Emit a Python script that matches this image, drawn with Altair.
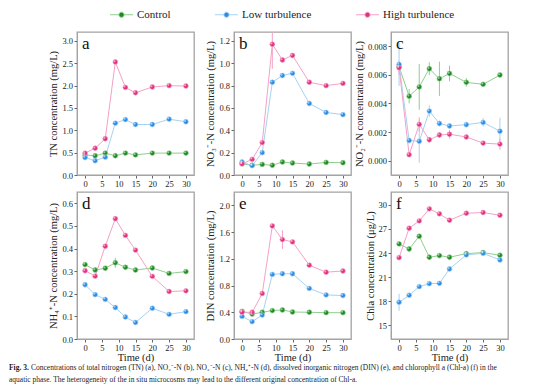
import altair as alt
import pandas as pd

FONT = "Liberation Serif"

days = [0, 3, 6, 9, 12, 15, 20, 25, 30]
series_names = ["Control", "Low turbulence", "High turbulence"]
point_colors = ["#1f8a24", "#2b8ce6", "#e3307f"]
line_colors = ["#8fcf8f", "#a6d2f5", "#f4a2c6"]

# (a) TN
tn_control = [0.45, 0.43, 0.49, 0.43, 0.49, 0.45, 0.49, 0.49, 0.49]
tn_low = [0.39, 0.32, 0.40, 1.16, 1.24, 1.13, 1.13, 1.25, 1.19]
tn_high = [0.49, 0.60, 0.81, 2.53, 1.96, 1.84, 1.97, 2.00, 1.99]
tn_control_err = [0, 0, 0, 0, 0, 0, 0, 0, 0]
tn_low_err = [0, 0, 0, 0, 0, 0, 0, 0, 0]
tn_high_err = [0, 0, 0, 0, 0, 0, 0, 0, 0]

# (b) NO3-N
no3_control = [0.100, 0.087, 0.095, 0.087, 0.116, 0.107, 0.098, 0.113, 0.110]
no3_low = [0.116, 0.084, 0.20, 0.83, 0.89, 0.91, 0.64, 0.56, 0.54]
no3_high = [0.10, 0.14, 0.29, 1.17, 1.03, 1.07, 0.83, 0.80, 0.82]
no3_control_err = [0, 0, 0, 0, 0, 0, 0, 0, 0]
no3_low_err = [0, 0, 0, 0, 0, 0, 0, 0, 0]
no3_high_err = [0, 0, 0, 0.22, 0, 0, 0, 0, 0]

# (c) NO2-N
no2_control = [0.00657, 0.00451, 0.00516, 0.00643, 0.00573, 0.00610, 0.00548, 0.00534, 0.00599]
no2_low = [0.00673, 0.00141, 0.00136, 0.00347, 0.00260, 0.00243, 0.00252, 0.00268, 0.00206]
no2_high = [0.00650, 0.00042, 0.00254, 0.00146, 0.00180, 0.00185, 0.00166, 0.00123, 0.00116]
no2_control_err = [0.0002, 0.0005, 0.0016, 0.00045, 0.0012, 0.00055, 0.0003, 0.0001, 0.0001]
no2_low_err = [0.0015, 0.0001, 0.0015, 0.0004, 0.0002, 0.0002, 0.0002, 0.0003, 0.00095]
no2_high_err = [0.0005, 0.0001, 0.0005, 0.0002, 0.0002, 0.0003, 0.0001, 0.0001, 0.0004]

# (d) NH4-N
nh4_control = [0.329, 0.305, 0.313, 0.337, 0.317, 0.305, 0.314, 0.290, 0.298]
nh4_low = [0.240, 0.196, 0.175, 0.139, 0.097, 0.073, 0.136, 0.109, 0.121]
nh4_high = [0.302, 0.278, 0.410, 0.532, 0.458, 0.393, 0.277, 0.210, 0.213]
nh4_control_err = [0.01, 0.01, 0, 0.022, 0, 0, 0, 0, 0]
nh4_low_err = [0.012, 0, 0, 0, 0, 0, 0, 0, 0]
nh4_high_err = [0, 0, 0, 0, 0, 0, 0, 0, 0]

# (e) DIN
din_control = [0.414, 0.373, 0.400, 0.425, 0.435, 0.404, 0.400, 0.394, 0.394]
din_low = [0.338, 0.260, 0.358, 0.967, 0.977, 0.977, 0.757, 0.660, 0.650]
din_high = [0.400, 0.400, 0.680, 1.693, 1.488, 1.453, 1.105, 1.000, 1.018]
din_control_err = [0, 0, 0, 0, 0, 0, 0, 0, 0]
din_low_err = [0, 0, 0, 0, 0, 0, 0, 0, 0]
din_high_err = [0, 0, 0, 0, 0.14, 0, 0, 0, 0]

# (f) Chla
chla_control = [25.14, 24.51, 26.09, 23.48, 23.68, 23.48, 23.93, 24.06, 23.72]
chla_low = [17.87, 18.74, 19.82, 20.19, 20.23, 22.02, 23.77, 23.97, 23.14]
chla_high = [23.43, 27.09, 28.00, 29.50, 28.88, 28.09, 28.96, 29.04, 28.71]
chla_control_err = [0, 0.35, 0, 0.35, 0, 0, 0.3, 0, 0]
chla_low_err = [1.05, 0, 0, 0, 0, 0, 0, 0, 0]
chla_high_err = [0, 0, 0, 0, 0, 0, 0, 0, 0]

panel_keys = ["a", "b", "c", "d", "e", "f"]
panel_series = {
    "a": (tn_control, tn_low, tn_high, tn_control_err, tn_low_err, tn_high_err),
    "b": (no3_control, no3_low, no3_high, no3_control_err, no3_low_err, no3_high_err),
    "c": (no2_control, no2_low, no2_high, no2_control_err, no2_low_err, no2_high_err),
    "d": (nh4_control, nh4_low, nh4_high, nh4_control_err, nh4_low_err, nh4_high_err),
    "e": (din_control, din_low, din_high, din_control_err, din_low_err, din_high_err),
    "f": (chla_control, chla_low, chla_high, chla_control_err, chla_low_err, chla_high_err),
}
y_titles = {
    "a": "TN concentration (mg/L)",
    "b": "NO\u2083\u207b-N concentration (mg/L)",
    "c": "NO\u2082\u207b-N concentration (mg/L)",
    "d": "NH\u2084\u207a-N concentration (mg/L)",
    "e": "DIN concentration (mg/L)",
    "f": "Chla concentration (\u03bcg/L)",
}
y_domains = {
    "a": [0, 3.2], "b": [0, 1.28], "c": [-0.001, 0.009],
    "d": [0, 0.65], "e": [0, 2.2], "f": [13.3, 31.6],
}
y_ticks = {
    "a": [0, 0.5, 1.0, 1.5, 2.0, 2.5, 3.0],
    "b": [0, 0.2, 0.4, 0.6, 0.8, 1.0, 1.2],
    "c": [0, 0.002, 0.004, 0.006, 0.008],
    "d": [0, 0.1, 0.2, 0.3, 0.4, 0.5, 0.6],
    "e": [0, 0.4, 0.8, 1.2, 1.6, 2.0],
    "f": [15, 18, 21, 24, 27, 30],
}
y_formats = {"a": ".1f", "b": ".1f", "c": ".3f", "d": ".1f", "e": ".1f", "f": "d"}
x_domain = [-2.4, 32.4]
x_ticks = [0, 5, 10, 15, 20, 25, 30]

caption_bold = "Fig. 3."
caption_line1 = ("Concentrations of total nitrogen (TN) (a), NO\u2083\u207b-N (b), NO\u2082\u207b-N (c), "
                 "NH\u2084\u207a-N (d), dissolved inorganic nitrogen (DIN) (e), and chlorophyll a (Chl-a) (f) in the")
caption_line2 = ("aquatic phase. The heterogeneity of the in situ microcosms may lead to the different "
                 "original concentration of Chl-a.")

rows = []
for key in panel_keys:
    vals = panel_series[key]
    for si, name in enumerate(series_names):
        for d, v, e in zip(days, vals[si], vals[si + 3]):
            rows.append({"panel": key, "day": d, "series": name, "value": v,
                         "lo": v - e, "hi": v + e, "err": e})
df = pd.DataFrame(rows)

# legend glyph: short line, dot, short line (drawn wider than the nominal symbol box)
path = ("M-2,0L-0.45,0M0.45,0L2,0"
        "M-0.45,0A0.45,0.45 0 1,0 0.45,0A0.45,0.45 0 1,0 -0.45,0Z")

legend = alt.Legend(orient="none", legendX=38, legendY=-24, direction="horizontal",
                    title=None, symbolType=path, symbolSize=132, symbolStrokeWidth=1,
                    labelFont=FONT, labelFontSize=11, labelColor="#222222",
                    columnPadding=42, labelOffset=9, padding=0)

stroke_scale = alt.Scale(domain=series_names, range=line_colors)
fill_scale = alt.Scale(domain=series_names, range=point_colors)

PW = 117
H1 = 143
H2 = 147


def panel(key, height, bottom_row):
    sub = df[df.panel == key]
    xaxis = alt.Axis(values=x_ticks, title="Time (d)" if bottom_row else None,
                     labelFlush=False, labelOverlap=False, titlePadding=0,
                     titleFontWeight="normal", titleFont=FONT, titleFontSize=10.5)
    yaxis = alt.Axis(values=y_ticks[key], format=y_formats[key], title=y_titles[key],
                     labelFlush=False, labelOverlap=False,
                     titleFontWeight="normal", titleFont=FONT, titleFontSize=10.5)
    xs = alt.Scale(domain=x_domain, nice=False, zero=False)
    ys = alt.Scale(domain=y_domains[key], nice=False, zero=False)
    x = alt.X("day:Q", scale=xs, axis=xaxis)
    y = alt.Y("value:Q", scale=ys, axis=yaxis)
    base = alt.Chart(sub)
    lines = base.mark_line(strokeWidth=1, clip=True).encode(
        x=x, y=y, stroke=alt.Stroke("series:N", scale=stroke_scale, legend=legend),
        detail="series:N", order="day:Q")
    errs = base.transform_filter("datum.err > 0").mark_rule(strokeWidth=1, clip=True).encode(
        x=x, y=alt.Y("lo:Q", scale=ys, axis=yaxis), y2="hi:Q",
        stroke=alt.Stroke("series:N", scale=stroke_scale, legend=legend))
    pts = base.mark_point(filled=True, size=24, strokeWidth=0.6, opacity=1, clip=True).encode(
        x=x, y=y,
        fill=alt.Fill("series:N", scale=fill_scale, legend=legend),
        stroke=alt.Stroke("series:N", scale=stroke_scale, legend=legend))
    shine = base.mark_point(filled=True, size=4, opacity=0.55, clip=True,
                            xOffset=-0.8, yOffset=-0.8, color="white").encode(
        x=x, y=y)
    letter = alt.Chart(pd.DataFrame({"letter": [key]})).mark_text(
        font=FONT, fontSize=17, align="left", baseline="alphabetic", color="#111111").encode(
        text="letter:N", x=alt.value(5), y=alt.value(17))
    layers = [lines, errs, pts, shine, letter]
    if key == "d":
        cap_base = alt.Chart(pd.DataFrame({"bold": [caption_bold], "l1": [caption_line1],
                                           "l2": [caption_line2]}))
        layers += [
            cap_base.mark_text(font=FONT, fontSize=7.5, fontWeight="bold", align="left",
                               color="#222222").encode(
                text="bold:N", x=alt.value(-68), y=alt.value(height + 29)),
            cap_base.mark_text(font=FONT, fontSize=7.5, align="left", color="#222222").encode(
                text="l1:N", x=alt.value(-46), y=alt.value(height + 29)),
            cap_base.mark_text(font=FONT, fontSize=7.5, align="left", color="#222222").encode(
                text="l2:N", x=alt.value(-68), y=alt.value(height + 41)),
        ]
    return alt.layer(*layers).properties(width=PW, height=height)


panels = [panel("a", H1, False), panel("b", H1, False), panel("c", H1, False),
          panel("d", H2, True), panel("e", H2, True), panel("f", H2, True)]

chart = alt.concat(*panels, columns=3, spacing=alt.RowColnumber(row=17, column=40),
                   bounds="flush").properties(
    padding={"left": 0, "top": 0, "right": 0, "bottom": 0},
).configure_view(stroke="#a3a3a3", strokeWidth=1.3).configure_axis(
    labelFont=FONT, labelFontSize=8.5, labelColor="#222222",
    titleFont=FONT, titleFontSize=10.5, titleFontWeight="normal", titleColor="#222222",
    tickSize=3, tickColor="#666666", domainColor="#a3a3a3", grid=False,
    labelPadding=1.5, titlePadding=3, labelOverlap=False,
)

chart.save("out.html", embed_options={"renderer": "svg", "actions": False})
